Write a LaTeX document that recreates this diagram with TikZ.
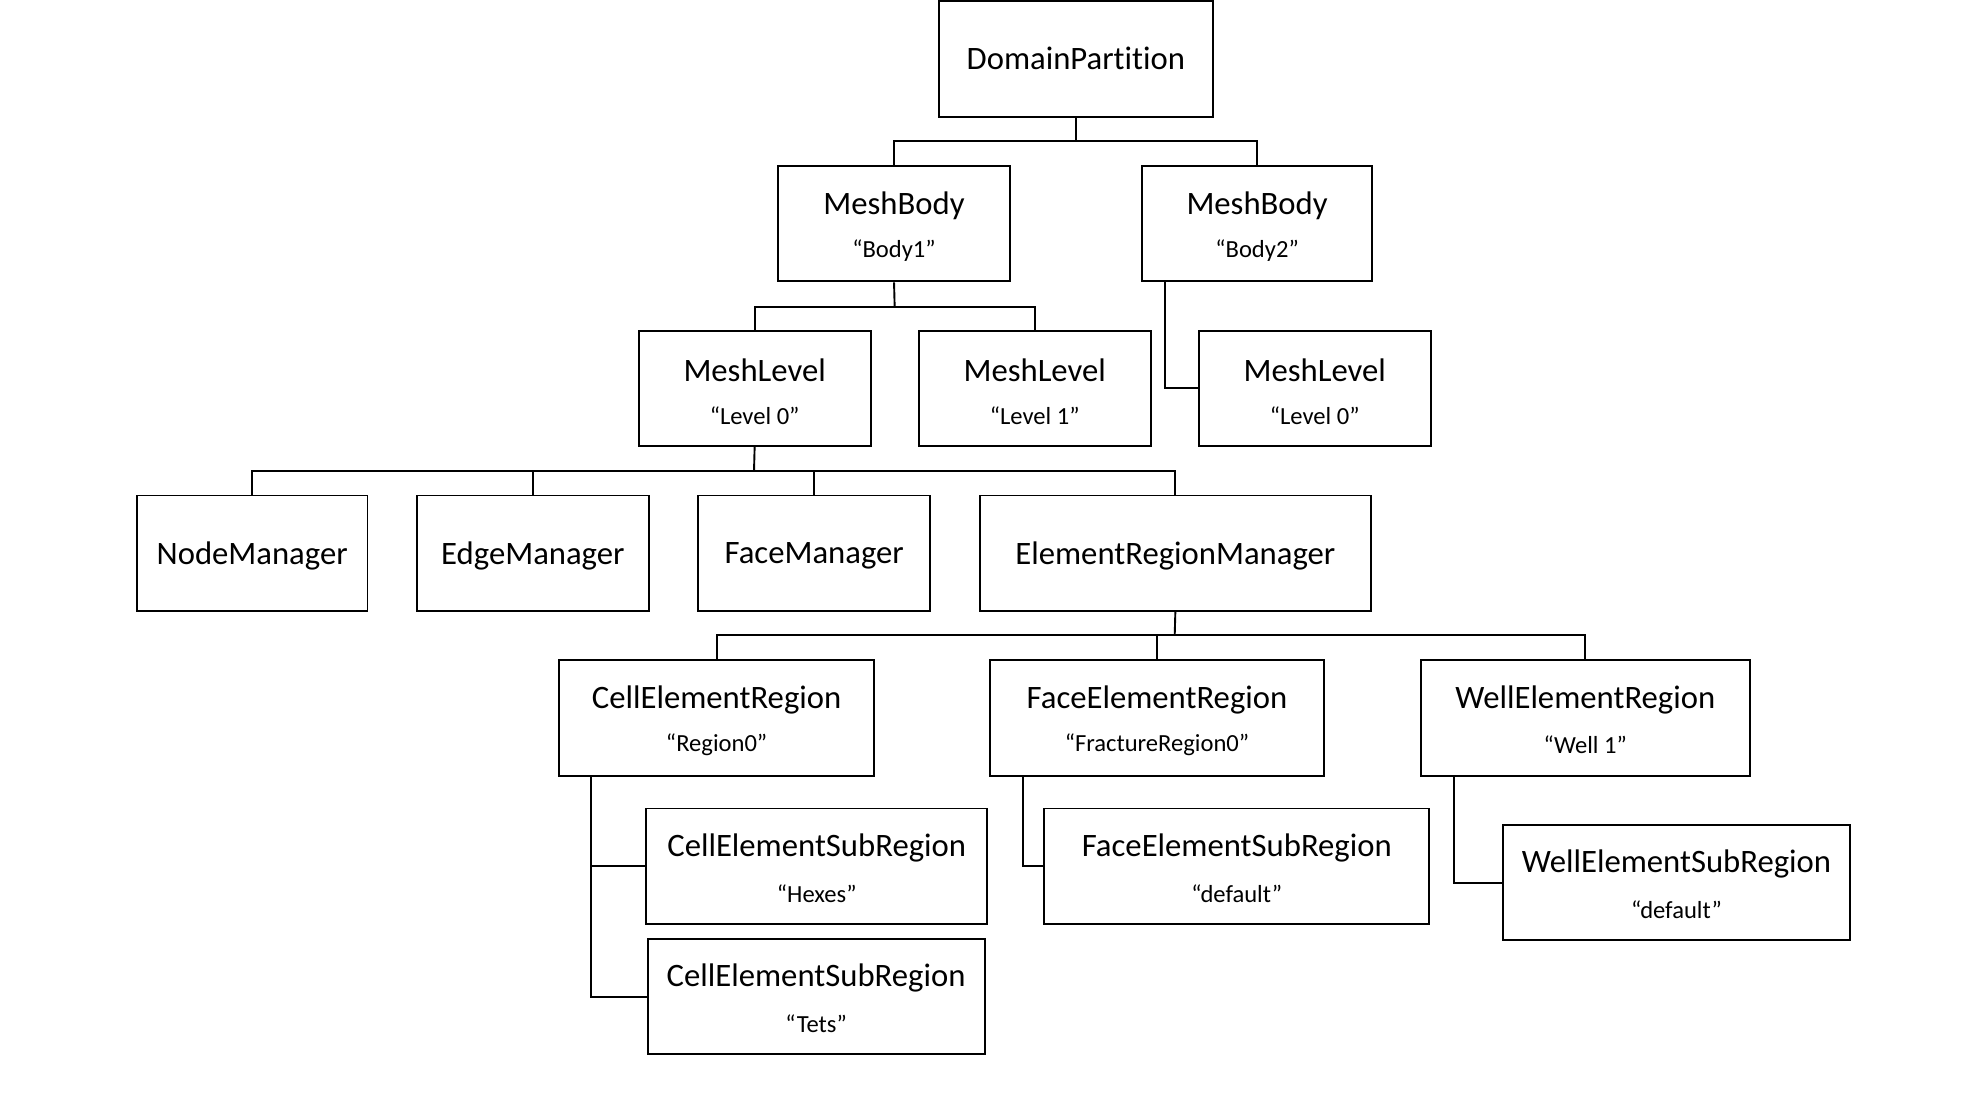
\documentclass[tikz,border=0pt]{standalone}
\usepackage{fontspec}
\setmainfont[Ligatures=CommonOff]{Carlito}
\usetikzlibrary{fit}
\begin{document}
\begin{tikzpicture}[x=0.5pt,y=-0.5pt,
  box/.style={draw, line width=0.75pt, inner sep=0pt},
  ttl/.style={inner sep=0pt, font=\fontsize{12.9}{15}\selectfont},
  sub/.style={inner sep=0pt, font=\fontsize{9.7}{12}\selectfont},
  conn/.style={line width=0.75pt}]
\useasboundingbox (0,0) rectangle (1568,873);
% boxes
\node[box, fit={(741,1)(957,92)}] (dp) {};
\node[box, fit={(614,131)(797,222)}] (b1) {};
\node[box, fit={(901,131)(1083,222)}] (b2) {};
\node[box, fit={(504,261)(687,352)}] (ml0) {};
\node[box, fit={(725,261)(908,352)}] (ml1) {};
\node[box, fit={(946,261)(1129,352)}] (ml0b) {};
\node[box, fit={(108,391)(290,482)}] (nm) {};
\node[box, fit={(329,391)(512,482)}] (em) {};
\node[box, fit={(551,391)(734,482)}] (fm) {};
\node[box, fit={(773,391)(1082,482)}] (erm) {};
\node[box, fit={(441,521)(690,612)}] (cer) {};
\node[box, fit={(781,521)(1045,612)}] (fer) {};
\node[box, fit={(1121,521)(1381,612)}] (wer) {};
\node[box, fit={(510,638)(779,729)}] (hex) {};
\node[box, fit={(511,741)(777,832)}] (tets) {};
\node[box, fit={(824,638)(1128,729)}] (fesr) {};
\node[box, fit={(1186,651)(1460,742)}] (wesr) {};
% texts
\node[ttl] (dp-t) at ([yshift=0.3pt]dp.center) {DomainPartition};
\node[ttl] (nm-t) at ([yshift=-1pt]nm.center) {NodeManager};
\node[ttl] (em-t) at ([yshift=-1pt]em.center) {EdgeManager};
\node[ttl] (fm-t) at ([yshift=-1pt]fm.center) {FaceManager};
\node[ttl] (erm-t) at ([yshift=-1pt]erm.center) {ElementRegionManager};
\foreach \n/\t/\s in {b1/MeshBody/“Body1”, b2/MeshBody/“Body2”,
  ml0/MeshLevel/“Level 0”, ml1/MeshLevel/“Level 1”, ml0b/MeshLevel/“Level 0”,
  cer/CellElementRegion/“Region0”, fer/FaceElementRegion/“FractureRegion0”,
  wer/WellElementRegion/“Well 1”, hex/CellElementSubRegion/“Hexes”,
  tets/CellElementSubRegion/“Tets”, fesr/FaceElementSubRegion/“default”,
  wesr/WellElementSubRegion/“default”}{
  \node[ttl] (\n-t) at ([yshift=7.25pt]\n.center) {\t};
  \node[sub] (\n-s) at ([yshift=-10.75pt]\n.center) {\s};
}
% junctions
\coordinate (j1) at (849,111);
\coordinate (j2) at (706,242);
\coordinate (j3) at (595,372);
\coordinate (j4) at (927,501);
% connectors
\draw[conn] (dp.south) -- (j1);
\draw[conn] (b1.north) |- (j1);
\draw[conn] (b2.north) |- (j1);
\draw[conn] (b1.south) -- (j2);
\draw[conn] (ml0.north) |- (j2);
\draw[conn] (ml1.north) |- (j2);
\draw[conn] ([xshift=9.5pt]b2.south west) |- (ml0b.west);
\draw[conn] (ml0.south) -- (j3);
\draw[conn] (nm.north) |- (j3);
\draw[conn] (em.north) |- (j3);
\draw[conn] (fm.north) |- (j3);
\draw[conn] (erm.north) |- (j3);
\draw[conn] (erm.south) -- (j4);
\draw[conn] (cer.north) |- (j4);
\draw[conn] (fer.north) |- (j4);
\draw[conn] (wer.north) |- (j4);
\draw[conn] ([xshift=13pt]cer.south west) |- (hex.west);
\draw[conn] ([xshift=13pt]cer.south west) |- (tets.west);
\draw[conn] ([xshift=13.5pt]fer.south west) |- (fesr.west);
\draw[conn] ([xshift=13.5pt]wer.south west) |- (wesr.west);
\end{tikzpicture}
\end{document}
